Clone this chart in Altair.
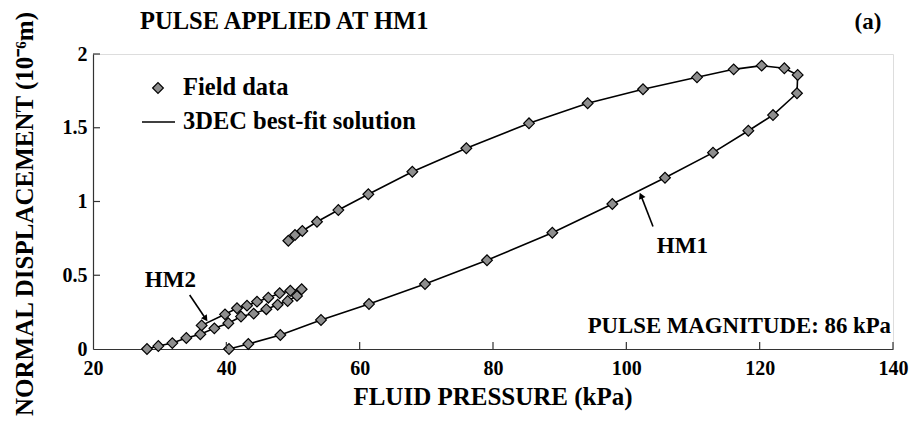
import altair as alt
import pandas as pd

# ---------------- data ----------------
# HM1: loading branch (pressure rising) then unloading branch (pressure falling)
hm1_pressure = [40.4, 43.3, 48.1, 54.2, 61.4, 69.8, 79.1, 88.9, 97.9, 105.8, 113.0,
                118.3, 122.0, 125.6, 125.7, 123.7, 120.3, 116.1, 110.6, 102.5, 94.2,
                85.4, 76.0, 67.9, 61.3, 56.8, 53.6, 51.4, 50.3, 49.3]
hm1_disp = [0.0, 0.034, 0.095, 0.197, 0.305, 0.441, 0.602, 0.788, 0.983, 1.161, 1.331,
            1.480, 1.586, 1.734, 1.858, 1.903, 1.921, 1.896, 1.842, 1.761, 1.666,
            1.530, 1.361, 1.202, 1.049, 0.942, 0.863, 0.800, 0.773, 0.734]

# HM2: loading row then unloading row
hm2_pressure = [28.1, 29.8, 31.9, 34.0, 36.1, 38.2, 40.3, 42.2, 44.1, 46.0, 47.7,
                49.2, 50.6, 51.3, 49.6, 48.0, 46.3, 44.6, 43.1, 41.6, 39.8, 36.3]
hm2_disp = [0.0, 0.02, 0.04, 0.075, 0.10, 0.14, 0.175, 0.22, 0.24, 0.27, 0.30,
            0.325, 0.36, 0.405, 0.395, 0.378, 0.348, 0.321, 0.294, 0.276, 0.235, 0.16]

x_ticks = [20, 40, 60, 80, 100, 120, 140]
y_ticks = [0, 0.5, 1, 1.5, 2]

# ---------------- layout ----------------
W, H = 800, 295
PAD = {"left": 93, "top": 54, "right": 26, "bottom": 77}
FONT = "Liberation Serif"
AXC = "#333333"

rows = []
for i, (p, d) in enumerate(zip(hm1_pressure, hm1_disp)):
    rows.append({"p": p, "d": d, "s": "HM1", "o": i})
for i, (p, d) in enumerate(zip(hm2_pressure, hm2_disp)):
    rows.append({"p": p, "d": d, "s": "HM2", "o": i})
df = pd.DataFrame(rows)

xs = alt.Scale(domain=[20, 140], nice=False, zero=False)
ys = alt.Scale(domain=[0, 2], nice=False)

x_axis = alt.Axis(values=x_ticks, ticks=False, grid=False, title=None,
                  domainColor=AXC, domainWidth=1.2, labelFont=FONT,
                  labelFontSize=20, labelFontWeight="bold", labelColor="black",
                  labelPadding=9, labelFlush=False, format="d")
y_axis = alt.Axis(values=y_ticks, ticks=False, grid=False, title=None,
                  domainColor=AXC, domainWidth=1.2, labelFont=FONT,
                  labelFontSize=20, labelFontWeight="bold", labelColor="black",
                  labelPadding=6, labelFlush=False, format="~g")


def X(field):
    return alt.X(field, scale=xs, axis=x_axis)


def Y(field):
    return alt.Y(field, scale=ys, axis=y_axis)


base = alt.Chart(df)
lines = base.mark_line(color="black", strokeWidth=1.6).encode(
    x=X("p:Q"), y=Y("d:Q"), detail="s:N", order="o:Q",
)
points = base.mark_point(shape="diamond", filled=True, fill="#8e8e8e",
                         stroke="black", strokeWidth=1.2, size=115,
                         opacity=1).encode(x=X("p:Q"), y=Y("d:Q"))

# inward ticks
xt = alt.Chart(pd.DataFrame({"p": x_ticks[1:]})).mark_rule(
    color=AXC, strokeWidth=1.2).encode(
    x=X("p:Q"), y=alt.value(H), y2=alt.value(H - 7))
yt = alt.Chart(pd.DataFrame({"d": y_ticks[1:]})).mark_rule(
    color=AXC, strokeWidth=1.2).encode(
    y=Y("d:Q"), x=alt.value(0), x2=alt.value(7))

# arrows (tail -> tip, in data units)
arrows = pd.DataFrame({
    "p": [104.0, 34.5], "d": [0.83, 0.366],
    "p2": [102.2, 36.9], "d2": [1.04, 0.205],
    "ang": [335, 145],
})
arrow_lines = alt.Chart(arrows).mark_rule(color="black", strokeWidth=1.6).encode(
    x=X("p:Q"), y=Y("d:Q"), x2="p2:Q", y2="d2:Q")
arrow_heads = alt.Chart(arrows).mark_point(shape="triangle-up", filled=True,
                                           color="black", size=50, opacity=1).encode(
    x=X("p2:Q"), y=Y("d2:Q"),
    angle=alt.Angle("ang:Q", scale=None))

labels = pd.DataFrame({"p": [108.4, 31.6], "d": [0.70, 0.47], "t": ["HM1", "HM2"]})
label_text = alt.Chart(labels).mark_text(font=FONT, fontSize=23, fontWeight="bold",
                                         color="black").encode(
    x=X("p:Q"), y=Y("d:Q"), text="t:N")


def txt(s, x, y, align="left", size=22, angle=0):
    return alt.Chart(pd.DataFrame({"t": [s]})).mark_text(
        font=FONT, fontSize=size, fontWeight="bold", color="black",
        align=align, baseline="middle", angle=angle).encode(
        x=alt.value(x), y=alt.value(y), text="t:N")


title = txt("PULSE APPLIED AT HM1", 47, -32, size=24.5)
panel = txt("(a)", 775, -32, align="center", size=23)
leg1 = txt("Field data", 90, 34, size=24.5)
leg2 = txt("3DEC best-fit solution", 90, 68, size=24.5)
mag = txt("PULSE MAGNITUDE: 86 kPa", 798, 272, align="right", size=22.8)
xtitle = txt("FLUID PRESSURE (kPa)", 400, 343, align="center", size=25)
ytitle = txt("NORMAL DISPLACEMENT (10⁻⁶m)", -68, 160, align="center", angle=270, size=25)

leg_pt = alt.Chart(pd.DataFrame({"a": [0]})).mark_point(
    shape="diamond", filled=True, fill="#8e8e8e", stroke="black",
    strokeWidth=1.2, size=115, opacity=1).encode(x=alt.value(65), y=alt.value(34))
leg_ln = alt.Chart(pd.DataFrame({"a": [0]})).mark_rule(
    color="black", strokeWidth=1.6).encode(
    x=alt.value(49), x2=alt.value(82), y=alt.value(68))

chart = alt.layer(
    lines, points, xt, yt, arrow_lines, arrow_heads, label_text,
    title, panel, leg1, leg2, mag, xtitle, ytitle, leg_pt, leg_ln,
).properties(
    width=W, height=H,
    autosize=alt.AutoSizeParams(type="none"),
    padding=PAD,
).configure_view(stroke=None).configure(background="white")

chart.save("out.html", embed_options={"renderer": "svg", "actions": False})
